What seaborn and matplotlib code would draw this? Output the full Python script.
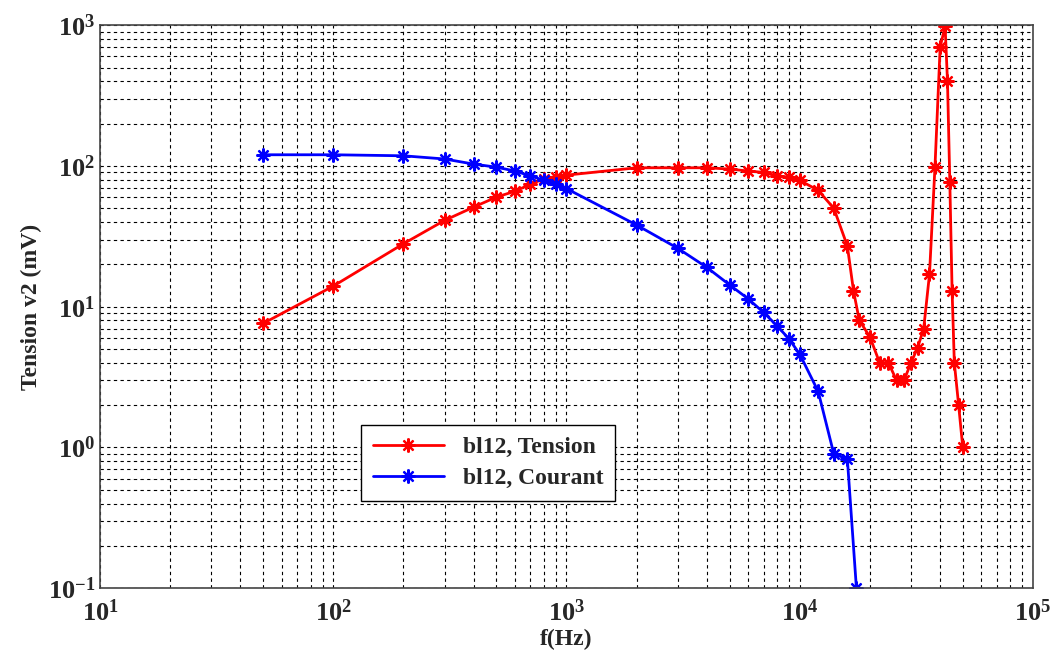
import math
import pandas as pd
import matplotlib
matplotlib.use("Agg")
import matplotlib.pyplot as plt
import matplotlib.ticker as mticker
import seaborn as sns

# frequencies (Hz) and measured values (mV)
f_tension = [50, 100, 200, 300, 400, 500, 600, 700, 800, 900, 1000,
             2000, 3000, 4000, 5000, 6000, 7000, 8000, 9000, 10000, 12000,
             14000, 16000, 17000, 18000, 20000, 22000, 24000, 26000, 28000,
             30000, 32000, 34000, 36000, 38000, 40000, 42000, 43000, 44000,
             45000, 46000, 48000, 50000]
v_tension = [7.6, 14, 28, 41, 51, 60, 66, 74, 81, 84, 86,
             97, 97, 97, 95, 92, 90, 85, 83, 79, 67,
             50, 27, 13, 8, 6.1, 4.0, 4.0, 3.0, 3.0,
             4.0, 5.1, 7.0, 17, 98, 700, 980, 400, 77,
             13, 4.0, 2.0, 1.0]

f_courant = [50, 100, 200, 300, 400, 500, 600, 700, 800, 900, 1000,
             2000, 3000, 4000, 5000, 6000, 7000, 8000, 9000, 10000, 12000,
             14000, 16000, 17500]
v_courant = [120, 120, 118, 112, 103, 98, 92, 85, 79, 74, 69,
             38, 26, 19, 14.3, 11.4, 9.1, 7.3, 5.9, 4.6, 2.5,
             0.9, 0.83, 0.1]

tension = pd.DataFrame({"f": f_tension, "v": v_tension})
courant = pd.DataFrame({"f": f_courant, "v": v_courant})

sns.set_style("white")
plt.rcParams['font.family'] = ['Liberation Serif', 'DejaVu Serif']
plt.rcParams['font.weight'] = 'bold'
plt.rcParams['mathtext.fontset'] = 'custom'
plt.rcParams['mathtext.rm'] = 'Liberation Serif:weight=bold'
plt.rcParams['mathtext.it'] = 'Liberation Serif:weight=bold'
plt.rcParams['mathtext.bf'] = 'Liberation Serif:weight=bold'

fig = plt.figure(figsize=(10.56, 6.61), dpi=100)
ax = fig.add_axes([0.0947, 0.110, 0.8835, 0.852])

star = (8, 2, 0)
sns.lineplot(data=tension, x="f", y="v", ax=ax, color="red", linewidth=2,
             marker=star, markersize=10, markeredgewidth=1.6,
             markeredgecolor="red", label="bl12, Tension", sort=False)
sns.lineplot(data=courant, x="f", y="v", ax=ax, color="blue", linewidth=2,
             marker=star, markersize=10, markeredgewidth=1.6,
             markeredgecolor="blue", label="bl12, Courant", sort=False)

ax.set_xscale("log")
ax.set_yscale("log")
ax.set_xlim(10, 1e5)
ax.set_ylim(0.1, 1000)

# power-of-ten tick labels in bold
pow_fmt = mticker.FuncFormatter(
    lambda val, pos: r"$\mathbf{10^{%d}}$" % round(math.log10(val)))
ax.xaxis.set_major_formatter(pow_fmt)
ax.yaxis.set_major_formatter(pow_fmt)
ax.xaxis.set_minor_formatter(mticker.NullFormatter())
ax.yaxis.set_minor_formatter(mticker.NullFormatter())

# matlab-like dashed grid, major and minor
ax.grid(True, which="both", color="black", linestyle=(0, (3, 3)), linewidth=0.8)
ax.tick_params(which="both", direction="in", labelsize=19)
ax.tick_params(axis="x", pad=8)
for s in ax.spines.values():
    s.set_color("#444444")
    s.set_linewidth(1.2)

ax.set_xlabel("f(Hz)", fontsize=17, fontweight="bold", labelpad=2)
ax.set_ylabel("Tension v2 (mV)", fontsize=17, fontweight="bold", labelpad=4)

leg = ax.legend(loc="upper left", bbox_to_anchor=(0.28, 0.29), fontsize=17,
                frameon=True, fancybox=False, edgecolor="black",
                framealpha=1, handlelength=3.0, borderpad=0.5,
                labelspacing=0.4, borderaxespad=0)
leg.get_frame().set_linewidth(1.0)

fig.savefig("out.png", dpi=100)
